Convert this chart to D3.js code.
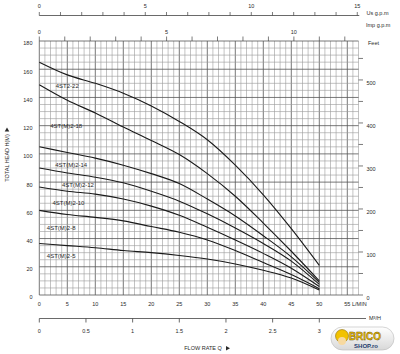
<!DOCTYPE html>
<html>
<head>
<meta charset="utf-8">
<script src="https://cdn.jsdelivr.net/npm/d3@7"></script>
<style>
html,body{margin:0;padding:0;background:#fff;}
svg{display:block;font-family:"Liberation Sans",Arial,sans-serif;}
</style>
</head>
<body>
<svg id="chart" width="400" height="354"></svg>
<script>
// ---- data (flow in L/min, head in m) ----
const flowLmin = [0, 5, 10, 15, 20, 25, 30, 35, 40, 45, 50];
const models = ["4ST2-22", "4ST(M)2-18", "4ST(M)2-14", "4ST(M)2-12", "4ST(M)2-10", "4ST(M)2-8", "4ST(M)2-5"];
const head22 = [165, 156, 150, 143, 134, 123, 110, 92, 71, 47, 21];
const head18 = [149, 138, 129, 119, 109.5, 99.5, 86, 70, 51, 31, 10];
const head14 = [105, 101, 97, 92, 86, 79, 68, 56, 42, 27, 9];
const head12 = [90, 86.5, 83.5, 79.5, 73.5, 66.5, 57.5, 47.5, 36.5, 24, 7.5];
const head10 = [76.5, 73.5, 71.5, 68, 63, 56.5, 48, 39, 29.5, 19, 6];
const head8 = [60, 57, 55, 52.5, 48.5, 44.5, 39, 31.5, 23, 14.5, 4.5];
const head5 = [36.5, 35, 33.5, 31.5, 30, 28, 25.5, 22, 17.5, 12, 3.5];
const heads = [head22, head18, head14, head12, head10, head8, head5];
// label anchor points (flow L/min, head m) for curve names
const labelFlow = [5, 4.8, 5.7, 6.9, 5.2, 3.9, 3.9];
const labelHead = [148.5, 120, 92, 78, 65.5, 47.5, 27.5];

const lminTicks = d3.range(0, 56, 5);
const m3hTicks = [0, 0.5, 1, 1.5, 2, 2.5, 3];
const m3hLabels = ["0", "0.5", "1", "1.5", "2", "2.5", "3"];
const usTicks = d3.range(0, 16, 1);
const usLabels = [0, 5, 10, 15];
const impTicks = d3.range(0, 13, 1);
const impLabels = [0, 5, 10];
const headTicks = d3.range(0, 181, 20);
const feetTicks = d3.range(0, 551, 50);
const feetLabels = [0, 100, 200, 300, 400, 500];

// ---- scales ----
const svg = d3.select("#chart");
const x = d3.scaleLinear().domain([0, 50]).range([39.3, 319.3]);
const y = d3.scaleLinear().domain([0, 180]).range([295, 41]);
const gridMaxQ = 57;
const ink = "#2a2a2a";

// ---- grid ----
const grid = svg.append("g");
grid.selectAll("line.v").data(d3.range(0, gridMaxQ + 1, 1)).join("line")
  .attr("x1", d => x(d)).attr("x2", d => x(d))
  .attr("y1", y(0)).attr("y2", y(180))
  .attr("stroke", d => d % 5 === 0 ? "#555" : "#9a9a9a")
  .attr("stroke-width", d => d % 5 === 0 ? 0.8 : 0.6);
grid.selectAll("line.h").data(d3.range(0, 181, 5)).join("line")
  .attr("x1", x(0)).attr("x2", x(gridMaxQ))
  .attr("y1", d => y(d)).attr("y2", d => y(d))
  .attr("stroke", d => d % 20 === 0 ? "#555" : "#9a9a9a")
  .attr("stroke-width", d => d % 20 === 0 ? 0.8 : 0.6);

// ---- curves ----
const line = d3.line()
  .x((d, i) => x(flowLmin[i]))
  .y(d => y(d))
  .curve(d3.curveMonotoneX);
svg.append("g").selectAll("path").data(heads).join("path")
  .attr("d", d => line(d))
  .attr("fill", "none")
  .attr("stroke", "#1a1a1a")
  .attr("stroke-width", 1.1);

// curve labels
svg.append("g").selectAll("text").data(models).join("text")
  .attr("x", (d, i) => x(labelFlow[i]))
  .attr("y", (d, i) => y(labelHead[i]))
  .attr("dy", "0.35em")
  .attr("text-anchor", "middle")
  .attr("font-size", 6)
  .attr("fill", ink)
  .text(d => d);

// ---- left axis labels ----
svg.append("g").selectAll("text").data(headTicks).join("text")
  .attr("x", 32.5).attr("y", d => y(d) + 2.5)
  .attr("dy", "0.35em")
  .attr("text-anchor", "end")
  .attr("font-size", 5.5).attr("fill", ink)
  .text(d => d);

// y title
svg.append("text")
  .attr("transform", "translate(9,158) rotate(-90)")
  .attr("text-anchor", "middle")
  .attr("font-size", 5.5).attr("fill", ink)
  .text("TOTAL HEAD H(M)");
svg.append("path").attr("d", "M7,127.5 L9.3,131.5 L4.7,131.5 Z").attr("fill", ink);

// ---- right feet axis ----
const yFeet = d3.scaleLinear().domain([0, 180 / 0.3048]).range([295, 41]);
svg.append("g").selectAll("line").data(feetTicks).join("line")
  .attr("x1", x(gridMaxQ)).attr("x2", x(gridMaxQ) + 4.5)
  .attr("y1", d => yFeet(d)).attr("y2", d => yFeet(d))
  .attr("stroke", "#444").attr("stroke-width", 0.7);
svg.append("g").selectAll("text").data(feetLabels).join("text")
  .attr("x", 366.5).attr("y", d => yFeet(d) + 3.5)
  .attr("dy", "0.35em")
  .attr("font-size", 5.5).attr("fill", ink)
  .text(d => d);
svg.append("text").attr("x", 368).attr("y", 43.5).attr("dy", "0.35em")
  .attr("font-size", 5.5).attr("fill", ink).text("Feet");

// ---- bottom L/min labels ----
svg.append("g").selectAll("text").data(lminTicks).join("text")
  .attr("x", d => x(d)).attr("y", 304)
  .attr("dy", "0.35em").attr("text-anchor", "middle")
  .attr("font-size", 5.5).attr("fill", ink)
  .text(d => d);
svg.append("text").attr("x", 352).attr("y", 304).attr("dy", "0.35em")
  .attr("font-size", 5.5).attr("fill", ink).text("L/MIN");

// ---- m3/h axis ----
const xM3 = d3.scaleLinear().domain([0, 3]).range([x(0), x(50)]);
svg.append("line").attr("x1", x(0)).attr("x2", 366).attr("y1", 318.5).attr("y2", 318.5)
  .attr("stroke", "#444").attr("stroke-width", 0.8);
svg.append("g").selectAll("line").data(m3hTicks).join("line")
  .attr("x1", d => xM3(d)).attr("x2", d => xM3(d))
  .attr("y1", 318.5).attr("y2", 322.5)
  .attr("stroke", "#444").attr("stroke-width", 0.8);
svg.append("g").selectAll("text").data(m3hTicks).join("text")
  .attr("x", d => xM3(d)).attr("y", 331)
  .attr("dy", "0.35em").attr("text-anchor", "middle")
  .attr("font-size", 5.5).attr("fill", ink)
  .text((d, i) => m3hLabels[i]);
svg.append("text").attr("x", 369).attr("y", 318).attr("dy", "0.35em")
  .attr("font-size", 5.5).attr("fill", ink).text("M³/H");

// flow rate title
svg.append("text").attr("x", 203).attr("y", 348).attr("dy", "0.35em")
  .attr("text-anchor", "middle")
  .attr("font-size", 5.5).attr("fill", ink).text("FLOW RATE Q");
svg.append("path").attr("d", "M226,346 L230,348.3 L226,350.6 Z").attr("fill", ink);

// ---- top US gpm axis ----
const xUS = d3.scaleLinear().domain([0, 1]).range([x(0), x(3.785411784)]);
svg.append("line").attr("x1", x(0)).attr("x2", xUS(15) + 2).attr("y1", 15.5).attr("y2", 15.5)
  .attr("stroke", "#444").attr("stroke-width", 0.8);
svg.append("g").selectAll("line").data(usTicks).join("line")
  .attr("x1", d => xUS(d)).attr("x2", d => xUS(d))
  .attr("y1", 15.5).attr("y2", 12)
  .attr("stroke", "#444").attr("stroke-width", 0.7);
svg.append("g").selectAll("text").data(usLabels).join("text")
  .attr("x", d => xUS(d)).attr("y", 6.5)
  .attr("dy", "0.35em").attr("text-anchor", "middle")
  .attr("font-size", 5.5).attr("fill", ink)
  .text(d => d);
svg.append("text").attr("x", 366.5).attr("y", 13.5).attr("dy", "0.35em")
  .attr("font-size", 5.5).attr("fill", ink).text("Us g.p.m");

// ---- top Imp gpm ticks ----
const xImp = d3.scaleLinear().domain([0, 1]).range([x(0), x(4.54609)]);
svg.append("g").selectAll("line").data(impTicks).join("line")
  .attr("x1", d => xImp(d)).attr("x2", d => xImp(d))
  .attr("y1", 41).attr("y2", 36.5)
  .attr("stroke", "#444").attr("stroke-width", 0.7);
svg.append("g").selectAll("text").data(impLabels).join("text")
  .attr("x", d => xImp(d)).attr("y", 32.5)
  .attr("dy", "0.35em").attr("text-anchor", "middle")
  .attr("font-size", 5.5).attr("fill", ink)
  .text(d => d);
svg.append("text").attr("x", 366).attr("y", 25.5).attr("dy", "0.35em")
  .attr("font-size", 5.5).attr("fill", ink).text("Imp g.p.m");

// ---- logo badge ----
const logo = svg.append("g");
const grad = svg.append("defs").append("linearGradient").attr("id", "pill")
  .attr("x1", 0).attr("x2", 0).attr("y1", 0).attr("y2", 1);
grad.append("stop").attr("offset", 0).attr("stop-color", "#ffffff");
grad.append("stop").attr("offset", 1).attr("stop-color", "#d8d8d8");
logo.append("rect").attr("x", 331).attr("y", 327).attr("width", 63).attr("height", 23)
  .attr("rx", 11.5).attr("fill", "url(#pill)").attr("stroke", "#bbb").attr("stroke-width", 0.6);
logo.append("circle").attr("cx", 342).attr("cy", 336).attr("r", 6.5).attr("fill", "#f2c200").attr("stroke", "#7a5a00").attr("stroke-width", 0.5);
logo.append("circle").attr("cx", 342).attr("cy", 341).attr("r", 4).attr("fill", "#f7d9a0");
logo.append("text").attr("x", 365).attr("y", 339.5).attr("text-anchor", "middle")
  .attr("font-size", 10).attr("font-weight", "bold").attr("fill", "#f4c000")
  .attr("stroke", "#6b5200").attr("stroke-width", 0.4).text("BRICO");
logo.append("text").attr("x", 366).attr("y", 347.5).attr("text-anchor", "middle")
  .attr("font-size", 6).attr("font-weight", "bold").attr("fill", "#1d3b6e").text("SHOP.ro");
</script>
</body>
</html>
